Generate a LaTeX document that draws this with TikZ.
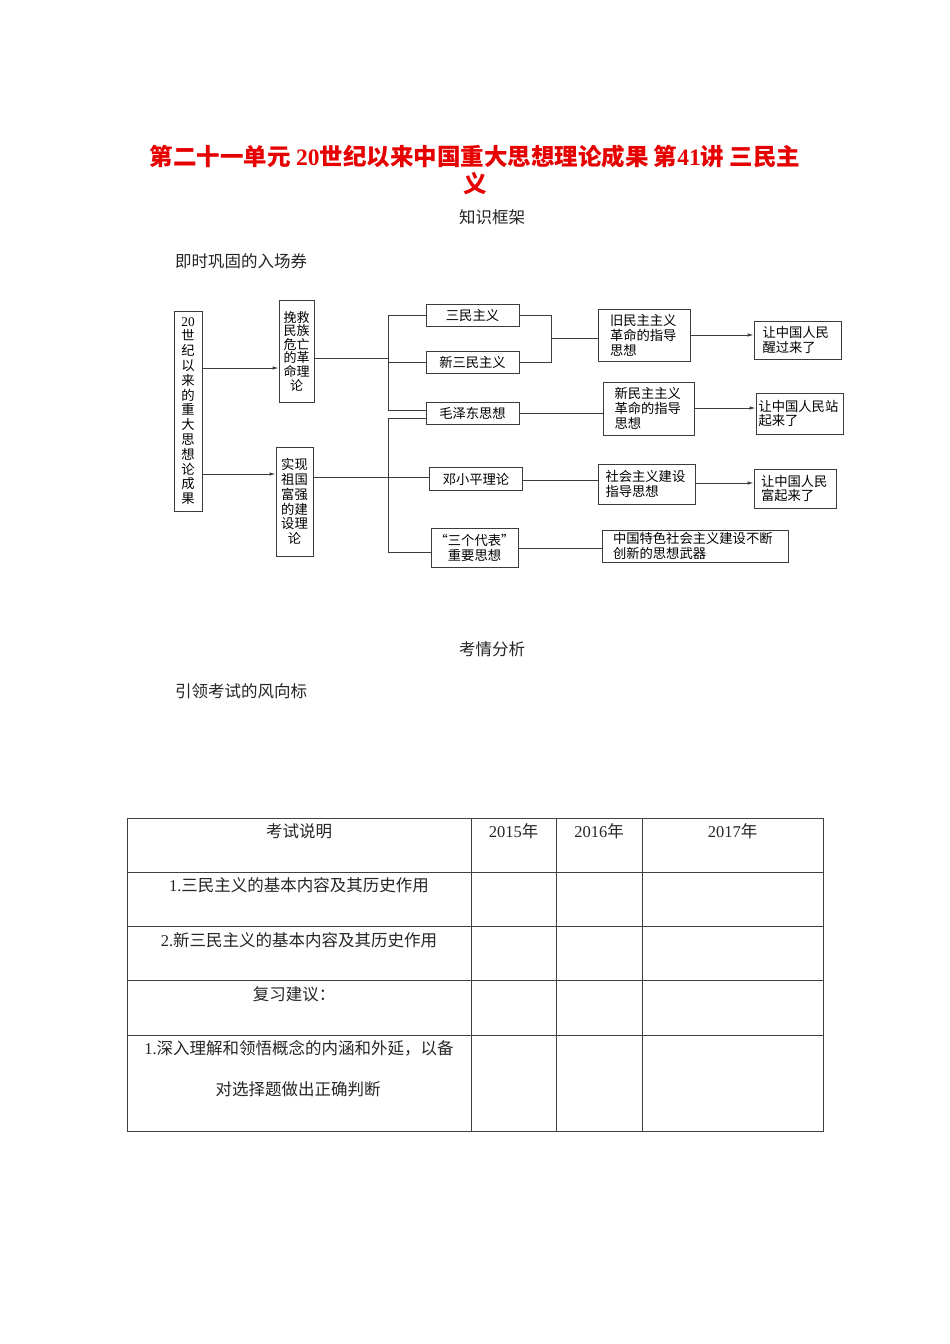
\documentclass[tikz,border=0pt]{standalone}
\usepackage{fontspec}
\setmainfont{Noto Sans CJK SC}
\newfontfamily\lat{Liberation Serif}
\usetikzlibrary{arrows.meta}
\definecolor{titlered}{RGB}{230,0,0}
\definecolor{ln}{RGB}{60,60,60}
\begin{document}
\begin{tikzpicture}[x=1pt,y=-1pt,
  bx/.style={draw=ln, line width=0.9pt, inner sep=0pt, align=center,
    font=\fontsize{13.3}{14.8}\selectfont},
  lbx/.style={bx, align=left},
  conn/.style={draw=ln, line width=0.9pt},
  arr/.style={conn, -{Latex[length=6pt,width=3.5pt]}},
  body/.style={inner sep=0pt, font=\fontsize{16.5}{18}\selectfont, text=black!85},
  grid/.style={draw=black!75, line width=0.9pt}]
\useasboundingbox (0,0) rectangle (950,1344);
\fill[white] (0,0) rectangle (950,1344);

% title
\node[inner sep=0pt, text=titlered, font=\fontsize{23.5}{26}\selectfont\bfseries] (t1) at (475,157)
  {第二十一单元 {\lat\bfseries 20}世纪以来中国重大思想理论成果 第{\lat\bfseries 41}讲 三民主};
\node[inner sep=0pt, text=titlered, font=\fontsize{23.5}{26}\selectfont\bfseries] (t2) at (475,184) {义};
\node[body] (h1) at (492,217) {知识框架};
\node[body, anchor=west] (h2) at (175,261) {即时巩固的入场券};
\node[body] (h3) at (492,649) {考情分析};
\node[body, anchor=west] (h4) at (175,691) {引领考试的风向标};

% diagram boxes
\node[bx, minimum width=28pt, minimum height=200pt] (A) at (188,411)
  {{\lat 20}\\世\\纪\\以\\来\\的\\重\\大\\思\\想\\论\\成\\果};
\node[bx, minimum width=35pt, minimum height=102pt, font=\fontsize{13}{13.6}\selectfont] (B) at (296.5,351)
  {挽救\\民族\\危亡\\的革\\命理\\论};
\node[bx, minimum width=37pt, minimum height=109pt] (C) at (294.5,501.5)
  {实现\\祖国\\富强\\的建\\设理\\论};
\node[bx, minimum width=93pt, minimum height=22pt] (D) at (472.5,315) {三民主义};
\node[bx, minimum width=93pt, minimum height=22pt] (E) at (472.5,362) {新三民主义};
\node[bx, minimum width=93pt, minimum height=22pt] (F) at (472.5,413.5) {毛泽东思想};
\node[bx, minimum width=93pt, minimum height=23pt] (G) at (476,479) {邓小平理论};
\node[bx, minimum width=87pt, minimum height=39pt] (H) at (474.5,547.5) {“三个代表”\\重要思想};
\node[lbx, minimum width=92pt, minimum height=52pt, text width=68pt] (I) at (644,335) {旧民主主义\\革命的指导\\思想};
\node[lbx, minimum width=87pt, minimum height=38pt, text width=70pt] (J) at (797.5,340) {让中国人民\\醒过来了};
\node[lbx, minimum width=91pt, minimum height=53pt, text width=68pt] (K) at (648.5,408.5) {新民主主义\\革命的指导\\思想};
\node[lbx, minimum width=87pt, minimum height=41pt, text width=82pt] (L) at (799.5,413.5) {让中国人民站\\起来了};
\node[lbx, minimum width=97pt, minimum height=40pt, text width=82pt] (M) at (646.5,484) {社会主义建设\\指导思想};
\node[lbx, minimum width=82pt, minimum height=39pt, text width=68pt] (N) at (795,488.5) {让中国人民\\富起来了};
\node[lbx, minimum width=186pt, minimum height=32pt, text width=164pt] (O) at (695,546) {中国特色社会主义建设不断\\创新的思想武器};

% connectors
\draw[arr] (A.east |- 0,368) -- (B.west |- 0,368);
\draw[arr] (A.east |- 0,474) -- (C.west |- 0,474);
\coordinate (tb) at (388,358);
\draw[conn] (B.east |- tb) -- (tb);
\draw[conn] (D.west) -- (D.west -| tb) -- (388,410) -- (F.west |- 0,410);
\draw[conn] (E.west) -- (E.west -| tb);
\draw[conn] (F.west |- 0,418) -- (388,418) -- (388,552) -- (H.west |- 0,552);
\draw[conn] (C.east |- 0,477) -- (G.west |- 0,477);
\coordinate (rb) at (551,338);
\draw[conn] (D.east) -- (D.east -| rb) -- (E.east -| rb) -- (E.east);
\draw[conn] (rb) -- (I.west |- rb);
\draw[conn] (F.east) -- (K.west |- F.east);
\draw[conn] (G.east |- 0,480) -- (M.west |- 0,480);
\draw[conn] (H.east |- 0,548) -- (O.west |- 0,548);
\draw[arr] (I.east |- 0,335) -- (J.west |- 0,335);
\draw[arr] (K.east |- 0,408) -- (L.west |- 0,408);
\draw[arr] (M.east |- 0,483) -- (N.west |- 0,483);

% table
\draw[grid] (127,818) rectangle (823,1131);
\foreach \yy in {872,926,980,1035} \draw[grid] (127,\yy) -- (823,\yy);
\foreach \xx in {471,556,642} \draw[grid] (\xx,818) -- (\xx,1131);
\node[body] (c00) at (299,831) {考试说明};
\node[body] (c01) at (513.5,831) {{\lat 2015}年};
\node[body] (c02) at (599,831) {{\lat 2016}年};
\node[body] (c03) at (732.5,831) {{\lat 2017}年};
\node[body] (c10) at (299,885) {{\lat 1.}三民主义的基本内容及其历史作用};
\node[body] (c20) at (299,940) {{\lat 2.}新三民主义的基本内容及其历史作用};
\node[body] (c30) at (294,994) {复习建议：};
\node[body] (c40) at (299,1048) {{\lat 1.}深入理解和领悟概念的内涵和外延，以备};
\node[body] (c41) at (298,1089) {对选择题做出正确判断};
\end{tikzpicture}
\end{document}
